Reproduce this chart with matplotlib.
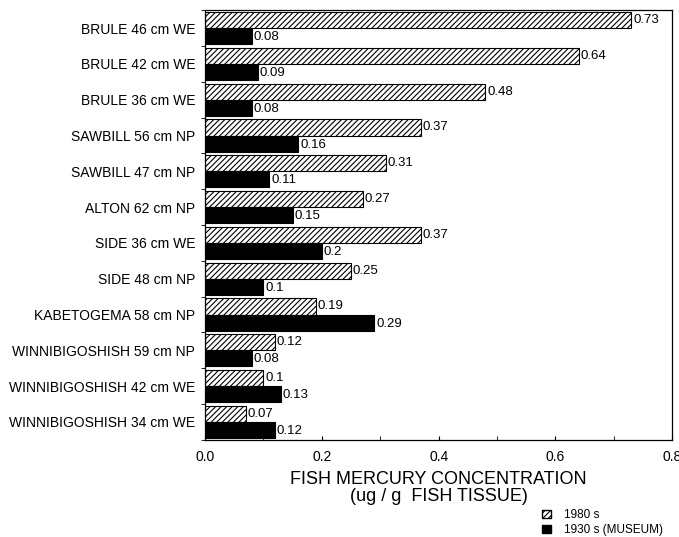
import matplotlib.pyplot as plt
import numpy as np
from matplotlib.patches import Patch

plt.rcParams['font.family'] = ['Liberation Sans', 'DejaVu Sans']
plt.rcParams['hatch.linewidth'] = 0.8

sites = ["BRULE 46 cm WE", "BRULE 42 cm WE", "BRULE 36 cm WE",
         "SAWBILL 56 cm NP", "SAWBILL 47 cm NP", "ALTON 62 cm NP",
         "SIDE 36 cm WE", "SIDE 48 cm NP", "KABETOGEMA 58 cm NP",
         "WINNIBIGOSHISH 59 cm NP", "WINNIBIGOSHISH 42 cm WE",
         "WINNIBIGOSHISH 34 cm WE"]
hg_1980s = [0.73, 0.64, 0.48, 0.37, 0.31, 0.27, 0.37, 0.25, 0.19, 0.12, 0.1, 0.07]
hg_1930s = [0.08, 0.09, 0.08, 0.16, 0.11, 0.15, 0.2, 0.1, 0.29, 0.08, 0.13, 0.12]
lab_1980s = ["0.73", "0.64", "0.48", "0.37", "0.31", "0.27", "0.37", "0.25", "0.19", "0.12", "0.1", "0.07"]
lab_1930s = ["0.08", "0.09", "0.08", "0.16", "0.11", "0.15", "0.2", "0.1", "0.29", "0.08", "0.13", "0.12"]

fig = plt.figure(figsize=(6.79, 5.37), dpi=100)
ax = fig.add_axes([0.302, 0.181, 0.688, 0.8])

y = np.arange(len(sites))
h = 0.45
ax.barh(y - h / 2, hg_1980s, height=h, color='white', edgecolor='black',
        hatch='//////', linewidth=0.8)
ax.barh(y + h / 2, hg_1930s, height=h, color='black', edgecolor='black', linewidth=0.8)

for i in range(len(sites)):
    ax.text(hg_1980s[i] + 0.003, y[i] - h / 2, lab_1980s[i], va='center', ha='left', fontsize=9.5)
    ax.text(hg_1930s[i] + 0.003, y[i] + h / 2 + 0.03, lab_1930s[i], va='center', ha='left', fontsize=9.5)

ax.set_xlim(0, 0.8)
ax.set_ylim(len(sites) - 0.5, -0.5)
ax.set_yticks(y)
ax.set_yticklabels(sites, fontsize=10)
ax.set_yticks(np.arange(len(sites) + 1) - 0.5, minor=True)
ax.tick_params(axis='y', which='major', length=0, pad=7)
ax.tick_params(axis='y', which='minor', length=3, direction='out')
ax.set_xticks([0, 0.2, 0.4, 0.6, 0.8])
ax.set_xticklabels(["0.0", "0.2", "0.4", "0.6", "0.8"], fontsize=10)
ax.set_xticks([0.1, 0.3, 0.5, 0.7], minor=True)
ax.tick_params(axis='x', which='both', direction='in', length=3, pad=7)
ax.set_xlabel("FISH MERCURY CONCENTRATION\n(ug / g  FISH TISSUE)", fontsize=13,
              linespacing=1.0, labelpad=5.5)
for s in ax.spines.values():
    s.set_linewidth(0.9)

handles = [Patch(facecolor='white', edgecolor='black', hatch='//////', label='1980 s'),
           Patch(facecolor='black', edgecolor='black', label='1930 s (MUSEUM)')]
fig.legend(handles=handles, loc='upper left', bbox_to_anchor=(542 / 679, 1 - 509 / 537),
           frameon=False, borderpad=0, borderaxespad=0,
           fontsize=8.5, handlelength=0.75, handleheight=0.75, labelspacing=0.25, handletextpad=1.1)

fig.savefig("out.png", dpi=100)
